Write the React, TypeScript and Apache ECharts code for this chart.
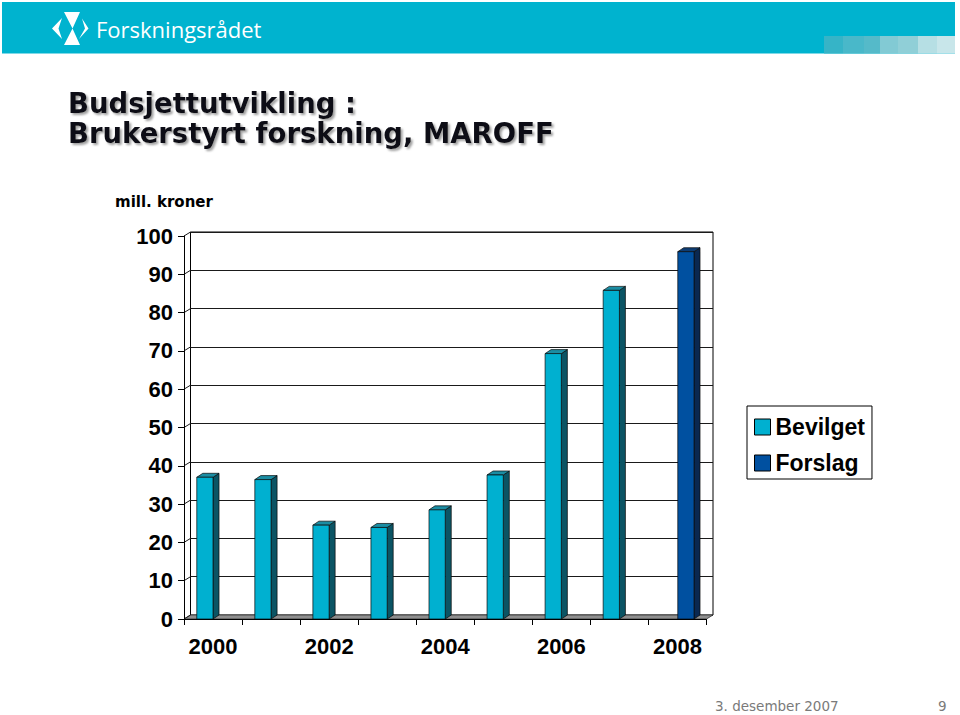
import React, { useEffect, useRef } from "react";
import * as echarts from "echarts";

const categories = ["2000", "2001", "2002", "2003", "2004", "2005", "2006", "2007", "2008"];
const bevilget: (number | null)[] = [37, 36.4, 24.5, 23.9, 28.5, 37.6, 69.3, 85.8, null];
const forslag: (number | null)[] = [null, null, null, null, null, null, null, null, 95.9];
const yTicks = [0, 10, 20, 30, 40, 50, 60, 70, 80, 90, 100];
const seriesNames = ["Bevilget", "Forslag"];

const AXIS_FONT = "'Liberation Sans', Arial, sans-serif";
const TITLE_FONT = "'DejaVu Sans', Verdana, sans-serif";

const BEV = { front: "#00B0D0", top: "#1B8DA3", side: "#0B5464" };
const FOR = { front: "#0050A0", top: "#0E3D73", side: "#0A2850" };

const WALL_DX = 6.5;
const WALL_DY = 4;
const BAR_DX = 6;
const BAR_DY = 4;

function makeBarRender(colors: { front: string; top: string; side: string }, leftSide: boolean) {
  return (params: any, api: any) => {
    const i = api.value(0);
    const v = api.value(1);
    const p = api.coord([i, v]);
    const p0 = api.coord([i, 0]);
    const band = api.size([1, 0])[0];
    const w = band * 0.28;
    const x0 = leftSide ? p[0] - w : p[0] + 0.3;
    const x1 = x0 + w;
    const yT = p[1];
    const yB = p0[1];
    const stroke = { stroke: "#0a0a0a", lineWidth: 0.7 };
    return {
      type: "group",
      children: [
        {
          type: "polygon",
          shape: { points: [[x1, yT], [x1 + BAR_DX, yT - BAR_DY], [x1 + BAR_DX, yB - BAR_DY], [x1, yB]] },
          style: { fill: colors.side, ...stroke },
        },
        {
          type: "polygon",
          shape: { points: [[x0, yT], [x0 + BAR_DX, yT - BAR_DY], [x1 + BAR_DX, yT - BAR_DY], [x1, yT]] },
          style: { fill: colors.top, ...stroke },
        },
        {
          type: "rect",
          shape: { x: x0, y: yT, width: w, height: yB - yT },
          style: { fill: colors.front, ...stroke },
        },
      ],
    };
  };
}

export default function App() {
  const ref = useRef<HTMLDivElement>(null);

  useEffect(() => {
    if (!ref.current) return;
    const chart = echarts.init(ref.current, undefined, { renderer: "svg" });

    const bevData = bevilget.map((v, i) => [i, v]).filter((d) => d[1] != null);
    const forData = forslag.map((v, i) => [i, v]).filter((d) => d[1] != null);

    const squares: [number, number, string][] = [
      [824, 843, "#36B4C7"],
      [843, 864, "#49B8C9"],
      [864, 880, "#55BAC9"],
      [880, 898, "#82CAD4"],
      [898, 918, "#90CFD7"],
      [918, 937, "#B6DFE4"],
      [937, 955, "#C8E6EA"],
    ];

    const option: any = {
      animation: false,
      backgroundColor: "#ffffff",
      grid: [
        { left: 184, top: 236, width: 522.5, height: 383, containLabel: false },
        {
          left: 190.5,
          top: 232,
          width: 522.5,
          height: 383,
          show: true,
          borderColor: "#000",
          borderWidth: 1,
          backgroundColor: "#fff",
          z: 0,
        },
      ],
      xAxis: [
        {
          type: "category",
          gridIndex: 0,
          data: categories,
          boundaryGap: true,
          axisLine: { show: true, lineStyle: { color: "#000", width: 1 } },
          axisTick: { show: true, interval: 0, length: 6, lineStyle: { color: "#000" } },
          axisLabel: {
            interval: 1,
            fontSize: 22,
            fontWeight: "bold",
            fontFamily: AXIS_FONT,
            color: "#000",
            margin: 16,
          },
          z: 5,
        },
        { type: "category", gridIndex: 1, data: categories, show: false },
      ],
      yAxis: [
        {
          type: "value",
          gridIndex: 0,
          min: 0,
          max: 100,
          interval: 10,
          axisLine: { show: true, lineStyle: { color: "#000", width: 1 } },
          axisTick: { show: true, length: 6, lineStyle: { color: "#000" } },
          axisLabel: {
            fontSize: 22,
            fontWeight: "bold",
            fontFamily: AXIS_FONT,
            color: "#000",
            margin: 11,
          },
          splitLine: { show: false },
          z: 5,
        },
        {
          type: "value",
          gridIndex: 1,
          min: 0,
          max: 100,
          interval: 10,
          axisLine: { show: false },
          axisTick: { show: false },
          axisLabel: { show: false },
          splitLine: { show: true, lineStyle: { color: "#1a1a1a", width: 1 } },
        },
      ],
      legend: {
        data: [
          { name: seriesNames[0], icon: "rect", itemStyle: { color: BEV.front, borderColor: "#000", borderWidth: 1 } },
          { name: seriesNames[1], icon: "rect", itemStyle: { color: FOR.front, borderColor: "#000", borderWidth: 1 } },
        ],
        orient: "vertical",
        left: 747,
        top: 406,
        itemWidth: 16,
        itemHeight: 16,
        itemGap: 10,
        padding: [8, 7, 3, 7],
        borderColor: "#000",
        borderWidth: 1,
        backgroundColor: "#fff",
        selectedMode: false,
        textStyle: {
          fontSize: 23,
          fontWeight: "bold",
          fontFamily: AXIS_FONT,
          color: "#000",
          lineHeight: 26,
        },
      },
      series: [
        {
          type: "custom",
          name: "floor",
          xAxisIndex: 0,
          yAxisIndex: 0,
          silent: true,
          z: 1,
          data: [[0, 0]],
          renderItem: (params: any, api: any) => {
            const band = api.size([1, 0])[0];
            const a = api.coord([0, 0]);
            const b = api.coord([categories.length - 1, 0]);
            const x0 = a[0] - band / 2;
            const x1 = b[0] + band / 2;
            const y = a[1];
            return {
              type: "polygon",
              shape: {
                points: [
                  [x0, y],
                  [x1, y],
                  [x1 + WALL_DX, y - WALL_DY],
                  [x0 + WALL_DX, y - WALL_DY],
                ],
              },
              style: { fill: "#8f8f8f", stroke: "#333", lineWidth: 0.8 },
            };
          },
        },
        {
          type: "custom",
          name: "wall",
          xAxisIndex: 0,
          yAxisIndex: 0,
          silent: true,
          z: 1,
          data: yTicks.map((v) => [0, v]),
          renderItem: (params: any, api: any) => {
            const band = api.size([1, 0])[0];
            const p = api.coord([0, api.value(1)]);
            const x0 = p[0] - band / 2;
            return {
              type: "line",
              shape: { x1: x0, y1: p[1], x2: x0 + WALL_DX, y2: p[1] - WALL_DY },
              style: { stroke: "#1a1a1a", lineWidth: 1 },
            };
          },
        },
        {
          type: "custom",
          name: seriesNames[0],
          xAxisIndex: 0,
          yAxisIndex: 0,
          z: 3,
          itemStyle: { color: BEV.front },
          encode: { x: 0, y: 1 },
          data: bevData,
          renderItem: makeBarRender(BEV, true),
        },
        {
          type: "custom",
          name: seriesNames[1],
          xAxisIndex: 0,
          yAxisIndex: 0,
          z: 3,
          itemStyle: { color: FOR.front },
          encode: { x: 0, y: 1 },
          data: forData,
          renderItem: makeBarRender(FOR, false),
        },
      ],
      graphic: [
        { type: "rect", shape: { x: 2, y: 2, width: 953, height: 51.5 }, style: { fill: "#00B3CF" }, z: 0 },
        ...squares.map(([a, b, c]) => ({
          type: "rect",
          shape: { x: a, y: 36, width: b - a, height: 17.5 },
          style: { fill: c },
          z: 1,
        })),
        // logo symbol
        {
          type: "polygon",
          shape: { points: [[64, 12], [80, 12], [72.5, 28.5], [80, 45], [64, 45], [72.5, 28.5]] },
          style: { fill: "#fff" },
          z: 2,
        },
        {
          type: "polygon",
          shape: { points: [[52, 28.5], [62, 18], [58.5, 28.5], [62, 39]] },
          style: { fill: "#fff" },
          z: 2,
        },
        {
          type: "polygon",
          shape: { points: [[88.5, 28.5], [82, 18.5], [85, 28.5], [79, 39]] },
          style: { fill: "#fff" },
          z: 2,
        },
        {
          type: "text",
          x: 96,
          y: 29,
          style: {
            text: "Forskningsrådet",
            fill: "#fff",
            font: "22px 'Open Sans', sans-serif",
            verticalAlign: "middle",
          },
          z: 2,
        },
        {
          type: "text",
          x: 68,
          y: 102.5,
          style: {
            text: "Budsjettutvikling :",
            fill: "#0a0a14",
            font: `bold 27.5px ${TITLE_FONT}`,
            verticalAlign: "middle",
            textShadowColor: "rgba(120,120,120,0.7)",
            textShadowOffsetX: 2,
            textShadowOffsetY: 2,
            textShadowBlur: 2,
          },
          z: 2,
        },
        {
          type: "text",
          x: 68,
          y: 132.5,
          style: {
            text: "Brukerstyrt forskning, MAROFF",
            fill: "#0a0a14",
            font: `bold 27.5px ${TITLE_FONT}`,
            verticalAlign: "middle",
            textShadowColor: "rgba(120,120,120,0.7)",
            textShadowOffsetX: 2,
            textShadowOffsetY: 2,
            textShadowBlur: 2,
          },
          z: 2,
        },
        {
          type: "text",
          x: 115,
          y: 202,
          style: {
            text: "mill. kroner",
            fill: "#000",
            font: `bold 15px ${TITLE_FONT}`,
            verticalAlign: "middle",
          },
          z: 2,
        },
        {
          type: "text",
          x: 715,
          y: 706,
          style: {
            text: "3. desember 2007",
            fill: "#7a7a7a",
            font: `13.5px ${TITLE_FONT}`,
            verticalAlign: "middle",
          },
          z: 2,
        },
        {
          type: "text",
          x: 938,
          y: 706,
          style: {
            text: "9",
            fill: "#7a7a7a",
            font: `13.5px ${TITLE_FONT}`,
            verticalAlign: "middle",
          },
          z: 2,
        },
      ],
    };

    chart.setOption(option);
    return () => {
      chart.dispose();
    };
  }, []);

  return (
    <div
      ref={ref}
      style={{ position: "fixed", left: 0, top: 0, width: 960, height: 715, background: "#fff" }}
    />
  );
}
